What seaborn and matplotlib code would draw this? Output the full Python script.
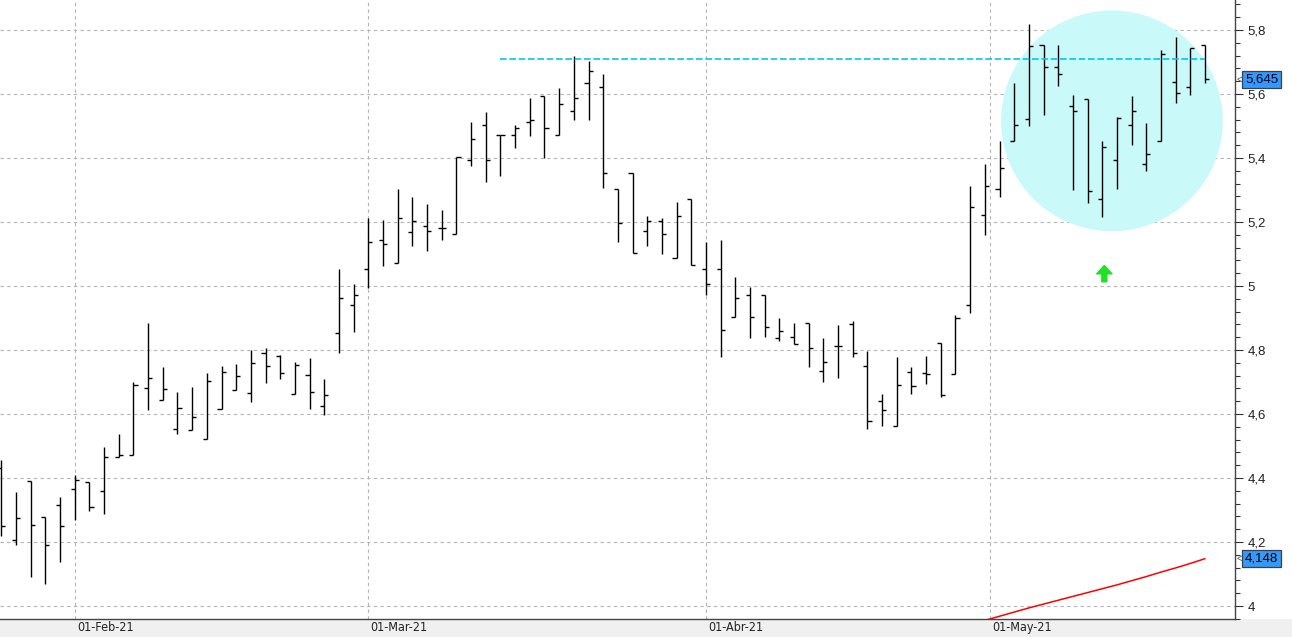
import numpy as np
import pandas as pd
import seaborn as sns
import matplotlib.pyplot as plt
import matplotlib.transforms as mtransforms
from matplotlib.patches import Ellipse, Rectangle
from matplotlib.ticker import MultipleLocator, FuncFormatter

sns.set_style('white')
plt.rcParams['font.family'] = ['Liberation Sans', 'DejaVu Sans']

# trading days (Spanish market, Good Friday / Easter Monday closed)
dates = pd.bdate_range('2021-01-25', '2021-05-21')
dates = dates[~dates.isin(pd.to_datetime(['2021-04-02', '2021-04-05']))]

opens = [4.431, 4.206, 4.390, 4.277, 4.315, 4.365, 4.387, 4.358, 4.466, 4.472,
         4.680, 4.644, 4.553, 4.549, 4.521, 4.615, 4.674, 4.665, 4.791, 4.781,
         4.662, 4.721, 4.624, 4.853, 4.940, 5.052, 5.143, 5.071, 5.168, 5.187,
         5.180, 5.162, 5.393, 5.502, 5.471, 5.471, 5.512, 5.593, 5.471, 5.546,
         5.633, 5.621, 5.302, 5.352, 5.172, 5.202, 5.087, 5.271, 5.052, 5.052,
         4.902, 4.971, 4.971, 4.837, 4.840, 4.883, 4.733, 4.812, 4.880, 4.749,
         4.640, 4.562, 4.730, 4.727, 4.821, 4.724, 4.940, 5.221, 5.302, 5.452,
         5.521, 5.753, 5.683, 5.562, 5.583, 5.271, 5.393, 5.502, 5.380, 5.452,
         5.637, 5.621, 5.752]
highs = [4.456, 4.356, 4.390, 4.277, 4.341, 4.409, 4.387, 4.498, 4.538, 4.700,
         4.884, 4.747, 4.669, 4.684, 4.728, 4.750, 4.756, 4.800, 4.806, 4.783,
         4.763, 4.775, 4.709, 5.053, 5.005, 5.212, 5.205, 5.302, 5.277, 5.255,
         5.237, 5.403, 5.513, 5.543, 5.471, 5.502, 5.587, 5.593, 5.618, 5.719,
         5.703, 5.662, 5.302, 5.352, 5.219, 5.212, 5.262, 5.271, 5.137, 5.143,
         5.027, 4.996, 4.971, 4.899, 4.883, 4.883, 4.837, 4.877, 4.890, 4.796,
         4.662, 4.777, 4.746, 4.780, 4.821, 4.908, 5.313, 5.381, 5.453, 5.635,
         5.819, 5.753, 5.753, 5.596, 5.583, 5.452, 5.527, 5.593, 5.508, 5.737,
         5.778, 5.743, 5.752]
lows = [4.219, 4.190, 4.092, 4.070, 4.138, 4.269, 4.298, 4.287, 4.466, 4.472,
        4.613, 4.644, 4.539, 4.549, 4.521, 4.615, 4.674, 4.639, 4.698, 4.710,
        4.662, 4.615, 4.596, 4.790, 4.857, 4.995, 5.064, 5.071, 5.126, 5.110,
        5.143, 5.162, 5.376, 5.326, 5.345, 5.432, 5.470, 5.401, 5.471, 5.520,
        5.520, 5.305, 5.137, 5.102, 5.126, 5.101, 5.087, 5.065, 4.972, 4.779,
        4.902, 4.837, 4.840, 4.827, 4.818, 4.748, 4.701, 4.713, 4.779, 4.552,
        4.562, 4.562, 4.662, 4.693, 4.652, 4.724, 4.917, 5.160, 5.279, 5.452,
        5.501, 5.535, 5.626, 5.301, 5.260, 5.217, 5.304, 5.442, 5.360, 5.452,
        5.571, 5.596, 5.633]
closes = [4.250, 4.275, 4.252, 4.190, 4.249, 4.393, 4.308, 4.466, 4.472, 4.690,
          4.712, 4.677, 4.618, 4.590, 4.703, 4.730, 4.718, 4.759, 4.749, 4.728,
          4.752, 4.669, 4.658, 4.962, 4.971, 5.137, 5.130, 5.212, 5.202, 5.171,
          5.180, 5.403, 5.458, 5.393, 5.471, 5.493, 5.518, 5.493, 5.569, 5.587,
          5.671, 5.352, 5.196, 5.102, 5.202, 5.162, 5.218, 5.065, 5.005, 4.862,
          4.962, 4.902, 4.871, 4.858, 4.818, 4.805, 4.762, 4.812, 4.790, 4.577,
          4.612, 4.690, 4.687, 4.724, 4.658, 4.899, 5.246, 5.313, 5.369, 5.502,
          5.750, 5.683, 5.662, 5.547, 5.296, 5.433, 5.524, 5.547, 5.412, 5.724,
          5.602, 5.743, 5.646]

# long moving average (last bars only, the rest is below the visible range)
ma_long = [3.942, 3.955, 3.968, 3.981, 3.994, 4.006, 4.018, 4.030, 4.042,
           4.054, 4.066, 4.079, 4.092, 4.106, 4.119, 4.133, 4.148]

resistance = 5.708
resistance_from = '2021-03-12'
month_ticks = ['2021-02-01', '2021-03-01', '2021-04-01', '2021-05-01']
month_labels = ['01-Feb-21', '01-Mar-21', '01-Abr-21', '01-May-21']
price_last = 5.645
ma_last = 4.148

df = pd.DataFrame({'date': dates, 'open': opens, 'high': highs,
                   'low': lows, 'close': closes})
df['x'] = np.arange(len(df))

W, H = 1292, 637
fig = plt.figure(figsize=(W / 100, H / 100), dpi=100)
fig.patches.append(Rectangle((0, 0), 1, 18 / H, transform=fig.transFigure,
                             facecolor='#f0f0f0', edgecolor='none', zorder=-5))
ax = fig.add_axes([0, 18 / H, 1235 / W, 619 / H])
ax.set_zorder(2)
ax.set_facecolor('white')

# highlight circle and signal arrow
ax.add_patch(Ellipse((75.66, 5.516), 15.1, 0.69, facecolor='#c9f9f9',
                     edgecolor='none', zorder=1))
ax.annotate('', xy=(75.14, 5.064), xytext=(75.14, 5.013),
            arrowprops=dict(arrowstyle='simple,head_width=0.55,head_length=0.3,tail_width=0.18',
                            mutation_scale=20, color='#22e022', shrinkA=0, shrinkB=0),
            zorder=3)

# OHLC bars
tick = 0.28
ax.vlines(df['x'], df['low'], df['high'], color='black', lw=1.0, zorder=4)
ax.hlines(df['open'], df['x'] - tick, df['x'], color='black', lw=1.0, zorder=4)
ax.hlines(df['close'], df['x'], df['x'] + tick, color='black', lw=1.0, zorder=4)

# long MA
ma_x = df['x'].iloc[-len(ma_long):].to_numpy()
sns.lineplot(x=ma_x, y=ma_long, color='#ff0000', lw=1.1, ax=ax, zorder=3)

# resistance
rx = df.loc[df['date'] >= resistance_from, 'x']
ax.hlines(resistance, rx.min(), rx.max(), color='#00c8f0', lw=1.2,
          linestyles=(0, (4, 1.6)), zorder=5)

ax.set_xlim(-0.09, 84.04)
ax.set_ylim(3.9594, 5.89375)

# month positions (interpolated for non-trading days)
ords = df['date'].map(pd.Timestamp.toordinal).to_numpy()
mpos = [np.interp(pd.Timestamp(d).toordinal(), ords, df['x']) for d in month_ticks]
ax.set_xticks(mpos)
ax.tick_params(axis='x', length=6, direction='out', color='#999999',
               width=0.8, labelbottom=False)
xt = mtransforms.blended_transform_factory(ax.transData, ax.transAxes)
for p, lab in zip(mpos, month_labels):
    ax.text(p + 0.15, -0.0145, lab, transform=xt,
            ha='left', va='center', fontsize=9, color='#222222',
            family='DejaVu Sans', fontstretch='condensed', clip_on=False)

ax.yaxis.tick_right()
ax.yaxis.set_major_locator(MultipleLocator(0.2))
ax.yaxis.set_minor_locator(MultipleLocator(0.04))
ax.yaxis.set_major_formatter(FuncFormatter(lambda v, p: f'{v:.1f}'.rstrip('0').rstrip('.').replace('.', ',')))
ax.tick_params(axis='y', which='major', length=6, width=0.8, color='#333333',
               labelsize=9.5, labelcolor='#222222', pad=3)
ax.tick_params(axis='y', which='minor', length=3.5, width=0.8, color='#333333')

ax.grid(True, which='major', color='#b4b4b4', lw=0.8, linestyle=(0, (3, 3)))
for s in ['top', 'left']:
    ax.spines[s].set_visible(False)
for s in ['right', 'bottom']:
    ax.spines[s].set_color('#444444')
    ax.spines[s].set_linewidth(1.0)

# last value boxes
yt = mtransforms.blended_transform_factory(ax.transAxes, ax.transData)
for v in [price_last, ma_last]:
    ax.text(1.0081, v, f'{v:.3f}'.replace('.', ','), transform=yt, ha='left',
            va='center', fontsize=9.5, color='black', zorder=6,
            bbox=dict(boxstyle='square,pad=0.2', facecolor='#3399ff',
                      edgecolor='#404040', lw=0.9), clip_on=False)
    ax.text(1.0015, v, '<', transform=yt, ha='left', va='center',
            fontsize=7, color='#555555', clip_on=False)

fig.savefig('out.png', dpi=100)
